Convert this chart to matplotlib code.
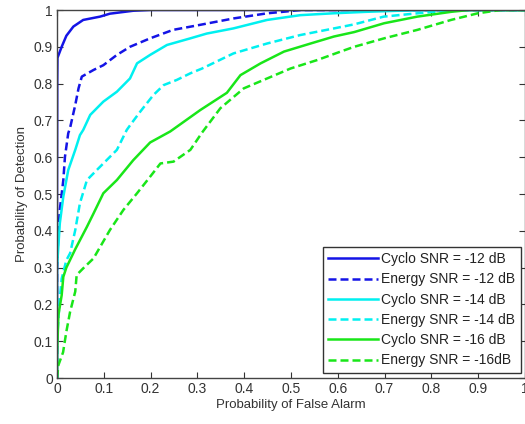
import numpy as np
import matplotlib
matplotlib.use("Agg")
import matplotlib.pyplot as plt

# ROC curves (Pf, Pd)
cyclo12_pf = [0, 0, 0.0005, 0.001, 0.01, 0.02, 0.035, 0.056, 0.092, 0.113, 0.163, 0.2, 1.0]
cyclo12_pd = [0, 0.45, 0.805, 0.87, 0.9, 0.93, 0.955, 0.973, 0.982, 0.99, 0.998, 1.0, 1.0]

energy12_pf = [0, 0, 0.003, 0.006, 0.0135, 0.017, 0.024, 0.028, 0.039, 0.046, 0.053, 0.078, 0.099,
               0.128, 0.156, 0.199, 0.248, 0.299, 0.377, 0.449, 0.49, 0.52, 1.0]
energy12_pd = [0, 0.3, 0.4, 0.457, 0.538, 0.601, 0.665, 0.68, 0.742, 0.787, 0.819, 0.837, 0.85,
               0.878, 0.9, 0.923, 0.946, 0.958, 0.977, 0.991, 0.996, 1.0, 1.0]

cyclo14_pf = [0, 0, 0.003, 0.006, 0.0135, 0.024, 0.039, 0.049, 0.056, 0.071, 0.099, 0.128, 0.156,
              0.171, 0.199, 0.235, 0.285, 0.32, 0.377, 0.449, 0.52, 0.59, 0.66, 0.73, 0.8, 1.0]
cyclo14_pd = [0, 0.3, 0.36, 0.42, 0.493, 0.565, 0.62, 0.66, 0.674, 0.715, 0.751, 0.778, 0.814,
              0.855, 0.878, 0.905, 0.923, 0.936, 0.95, 0.973, 0.986, 0.991, 0.995, 0.998, 1.0, 1.0]

energy14_pf = [0, 0, 0.005, 0.01, 0.02, 0.028, 0.039, 0.049, 0.064, 0.092, 0.128, 0.149, 0.158,
               0.178, 0.206, 0.228, 0.256, 0.285, 0.31, 0.377, 0.449, 0.52, 0.592, 0.635, 0.698,
               0.77, 0.85, 1.0]
energy14_pd = [0, 0.1, 0.2, 0.27, 0.32, 0.339, 0.402, 0.475, 0.538, 0.574, 0.62, 0.674, 0.69,
               0.724, 0.769, 0.796, 0.81, 0.828, 0.841, 0.882, 0.909, 0.932, 0.95, 0.961, 0.982,
               0.991, 1.0, 1.0]

cyclo16_pf = [0, 0, 0.003, 0.01, 0.0135, 0.02, 0.039, 0.064, 0.078, 0.099, 0.128, 0.163, 0.199,
              0.242, 0.306, 0.363, 0.392, 0.435, 0.485, 0.542, 0.592, 0.635, 0.699, 0.77, 0.842,
              0.88, 1.0]
cyclo16_pd = [0, 0.06, 0.171, 0.225, 0.275, 0.3, 0.35, 0.411, 0.447, 0.502, 0.538, 0.592, 0.64,
              0.67, 0.728, 0.775, 0.823, 0.855, 0.887, 0.909, 0.928, 0.94, 0.964, 0.982, 0.995,
              1.0, 1.0]

energy16_pf = [0, 0.003, 0.013, 0.02, 0.028, 0.039, 0.042, 0.056, 0.078, 0.113, 0.142, 0.171,
               0.199, 0.221, 0.249, 0.285, 0.31, 0.349, 0.399, 0.449, 0.499, 0.556, 0.606, 0.635,
               0.699, 0.77, 0.842, 0.899, 0.948, 1.0]
energy16_pd = [0, 0.035, 0.07, 0.126, 0.18, 0.235, 0.28, 0.298, 0.325, 0.402, 0.457, 0.502,
               0.547, 0.583, 0.588, 0.62, 0.667, 0.733, 0.787, 0.814, 0.841, 0.864, 0.887, 0.9,
               0.923, 0.946, 0.973, 0.991, 1.0, 1.0]

labels = ["Cyclo SNR = -12 dB", "Energy SNR = -12 dB", "Cyclo SNR = -14 dB",
          "Energy SNR = -14 dB", "Cyclo SNR = -16 dB", "Energy SNR = -16dB"]

plt.rcParams['font.family'] = ['Liberation Sans', 'DejaVu Sans']

fig = plt.figure(figsize=(5.25, 4.24), dpi=100)
ax = fig.add_axes([57 / 525, 46 / 424, 468 / 525, 368 / 424])

blue = '#1414e6'
cyan = '#00f0f0'
green = '#19e619'
dash = (0, (3.2, 1.6))

ax.plot(cyclo12_pf, cyclo12_pd, color=blue, lw=1.8, label=labels[0])
ax.plot(energy12_pf, energy12_pd, color=blue, lw=1.8, ls=dash, label=labels[1])
ax.plot(cyclo14_pf, cyclo14_pd, color=cyan, lw=1.8, label=labels[2])
ax.plot(energy14_pf, energy14_pd, color=cyan, lw=1.8, ls=dash, label=labels[3])
ax.plot(cyclo16_pf, cyclo16_pd, color=green, lw=1.8, label=labels[4])
ax.plot(energy16_pf, energy16_pd, color=green, lw=1.8, ls=dash, label=labels[5])

ax.set_xlim(0, 1)
ax.set_ylim(0, 1)
ax.set_xticks(np.arange(0, 1.01, 0.1))
ax.set_yticks(np.arange(0, 1.01, 0.1))
ax.set_xticklabels(['0', '0.1', '0.2', '0.3', '0.4', '0.5', '0.6', '0.7', '0.8', '0.9', '1'])
ax.set_yticklabels(['0', '0.1', '0.2', '0.3', '0.4', '0.5', '0.6', '0.7', '0.8', '0.9', '1'])
ax.tick_params(direction='in', top=True, right=True, length=4, width=0.8,
               labelsize=10, colors='#333333', pad=3)
for s in ax.spines.values():
    s.set_color('#444444')
    s.set_linewidth(1.0)

ax.set_xlabel('Probability of False Alarm', fontsize=9.5, color='#333333', labelpad=2)
ax.set_ylabel('Probability of Detection', fontsize=9.5, color='#333333', labelpad=4)

leg = ax.legend(loc='lower right', bbox_to_anchor=(0.991, 0.0136), borderaxespad=0,
                fontsize=10, handlelength=3.6, labelspacing=0.45, handletextpad=0.2,
                borderpad=0.4, fancybox=False, framealpha=1, edgecolor='#333333')
leg.get_frame().set_linewidth(1.0)
for t in leg.get_texts():
    t.set_color('#222222')

fig.savefig('out.png', dpi=100)
